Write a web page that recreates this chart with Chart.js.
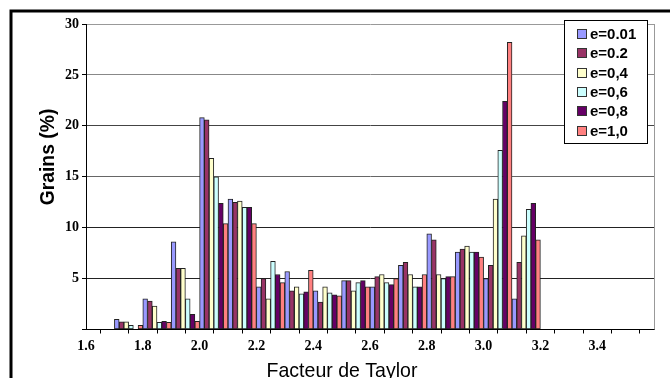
<!DOCTYPE html>
<html>
<head>
<meta charset="utf-8">
<script src="https://cdn.jsdelivr.net/npm/chart.js@4/dist/chart.umd.min.js"></script>
<style>
html,body{margin:0;padding:0;background:#fff;}
#wrap{width:670px;height:378px;position:relative;}
</style>
</head>
<body>
<div id="wrap"><canvas id="c" width="670" height="378"></canvas></div>
<script>
// Bins of the Taylor factor (lower bound of each 0.1-wide class)
const categories = ['1.6','1.7','1.8','1.9','2.0','2.1','2.2','2.3','2.4','2.5','2.6','2.7','2.8','2.9','3.0','3.1','3.2','3.3','3.4','3.5'];
// Tick labels on the class boundaries (1.6 ... 3.6)
const xTickLabels = ['1.6','','1.8','','2.0','','2.2','','2.4','','2.6','','2.8','','3.0','','3.2','','3.4','',''];
const yTicks = [5,10,15,20,25,30];
const seriesNames = ['e=0.01','e=0.2','e=0,4','e=0,6','e=0,8','e=1,0'];
const e001 = [0, 1.0, 3.0, 8.6, 20.8, 12.8, 4.2, 5.7, 3.8, 4.8, 4.2, 6.3, 9.4, 7.6, 5.0, 3.0, 0, 0, 0, 0];
const e02  = [0, 0.75, 2.8, 6.0, 20.6, 12.5, 5.0, 3.8, 2.7, 4.8, 5.2, 6.6, 8.8, 7.9, 6.3, 6.6, 0, 0, 0, 0];
const e04  = [0, 0.75, 2.3, 6.0, 16.8, 12.6, 3.0, 4.2, 4.2, 3.8, 5.4, 5.4, 5.4, 8.2, 12.8, 9.2, 0, 0, 0, 0];
const e06  = [0, 0.4, 0.7, 3.0, 15.0, 12.0, 6.7, 3.5, 3.6, 4.6, 4.6, 4.2, 5.0, 7.6, 17.6, 11.8, 0, 0, 0, 0];
const e08  = [0, 0, 0.8, 1.5, 12.4, 12.0, 5.4, 3.7, 3.4, 4.8, 4.4, 4.2, 5.2, 7.6, 22.4, 12.4, 0, 0, 0, 0];
const e10  = [0, 0.4, 0.7, 0.8, 10.4, 10.4, 4.6, 5.8, 3.3, 4.2, 5.0, 5.4, 5.2, 7.1, 28.2, 8.8, 0, 0, 0, 0];
const seriesValues = [e001, e02, e04, e06, e08, e10];
const colors = ['#9999FF','#993366','#FFFFCC','#CCFFFF','#660066','#FF8080'];

const decor = {
  id: 'decor',
  beforeDraw(chart) {
    const c = chart.ctx;
    c.save();
    c.fillStyle = '#fff';
    c.fillRect(0, 0, chart.width, chart.height);
    c.restore();
  },
  beforeDatasetsDraw(chart) {
    const c = chart.ctx, a = chart.chartArea;
    c.save();
    c.strokeStyle = '#999';
    c.lineWidth = 1;
    c.beginPath();
    c.moveTo(Math.round(a.right) + 0.5, a.top);
    c.lineTo(Math.round(a.right) + 0.5, a.bottom);
    c.stroke();
    c.restore();
  },
  afterDraw(chart) {
    const c = chart.ctx;
    c.save();
    // outer frame
    c.strokeStyle = '#000';
    c.lineWidth = 3;
    c.strokeRect(11, 11, 700, 400);
    // y title
    c.save();
    c.translate(48, 157);
    c.rotate(-Math.PI / 2);
    c.scale(0.92, 1);
    c.fillStyle = '#000';
    c.font = 'bold 21px "Liberation Sans", Arial, sans-serif';
    c.textAlign = 'center';
    c.textBaseline = 'middle';
    c.fillText('Grains (%)', 0, 0);
    c.restore();
    // x title
    c.save();
    c.translate(342, 377);
    c.scale(0.93, 1);
    c.fillStyle = '#000';
    c.font = '21px "Liberation Sans", Arial, sans-serif';
    c.textAlign = 'center';
    c.textBaseline = 'alphabetic';
    c.fillText('Facteur de Taylor', 0, 0);
    c.restore();
    // legend
    const lx = 564, ly = 20, lw = 83, lh = 123;
    c.fillStyle = '#fff';
    c.fillRect(lx, ly, lw, lh);
    c.strokeStyle = '#000';
    c.lineWidth = 1;
    c.strokeRect(lx + 0.5, ly + 0.5, lw, lh);
    c.font = 'bold 15px "Liberation Sans", Arial, sans-serif';
    c.textAlign = 'left';
    c.textBaseline = 'middle';
    chart.data.datasets.forEach((ds, i) => {
      const cy = 34 + i * 19.3;
      c.fillStyle = ds.backgroundColor;
      c.fillRect(577, Math.round(cy - 5), 10, 10);
      c.strokeStyle = '#333';
      c.strokeRect(577.5, Math.round(cy - 5) + 0.5, 9, 9);
      c.fillStyle = '#000';
      c.fillText(ds.label, 590, cy + 1);
    });
    c.restore();
  }
};

const gridColors = {30: '#999', 25: '#888', 20: '#444', 15: '#666', 10: '#222', 5: '#222'};

new Chart(document.getElementById('c').getContext('2d'), {
  type: 'bar',
  data: {
    labels: categories,
    datasets: seriesNames.map((n, i) => ({
      label: n,
      data: seriesValues[i],
      backgroundColor: colors[i],
      borderColor: '#222',
      borderWidth: 1,
      borderSkipped: false,
      categoryPercentage: 1.0,
      barPercentage: 1.0,
      xAxisID: 'x',
      yAxisID: 'y'
    }))
  },
  options: {
    responsive: false,
    animation: false,
    devicePixelRatio: 1,
    layout: {padding: {left: 0, right: 16, top: 24, bottom: 0}},
    plugins: {legend: {display: false}, tooltip: {enabled: false}},
    scales: {
      x: {type: 'category', display: false, offset: true, grid: {display: false}},
      x2: {
        type: 'category',
        labels: xTickLabels,
        position: 'bottom',
        offset: false,
        grid: {drawOnChartArea: false, drawTicks: true, tickLength: 4, color: '#000', tickColor: '#000'},
        border: {color: '#000', width: 1},
        ticks: {autoSkip: false, maxRotation: 0, minRotation: 0, color: '#000', padding: 4,
                font: {family: '"Liberation Serif", "Times New Roman", serif', weight: 'bold', size: 14}},
        afterFit(s) { s.height = 48.5; }
      },
      y: {
        min: 0, max: 30,
        afterBuildTicks(s) { s.ticks = [0].concat(yTicks).map(v => ({value: v})); },
        ticks: {
          callback: v => (yTicks.includes(v) ? String(v) : ''),
          color: '#000', padding: 3,
          font: {family: '"Liberation Serif", "Times New Roman", serif', weight: 'bold', size: 14}
        },
        grid: {
          color: ctx => gridColors[ctx.tick && ctx.tick.value] || '#000',
          tickColor: '#000', tickLength: 4, lineWidth: 1
        },
        border: {color: '#000', width: 1},
        afterFit(s) { s.width = 86; }
      }
    }
  },
  plugins: [decor]
});
</script>
</body>
</html>
